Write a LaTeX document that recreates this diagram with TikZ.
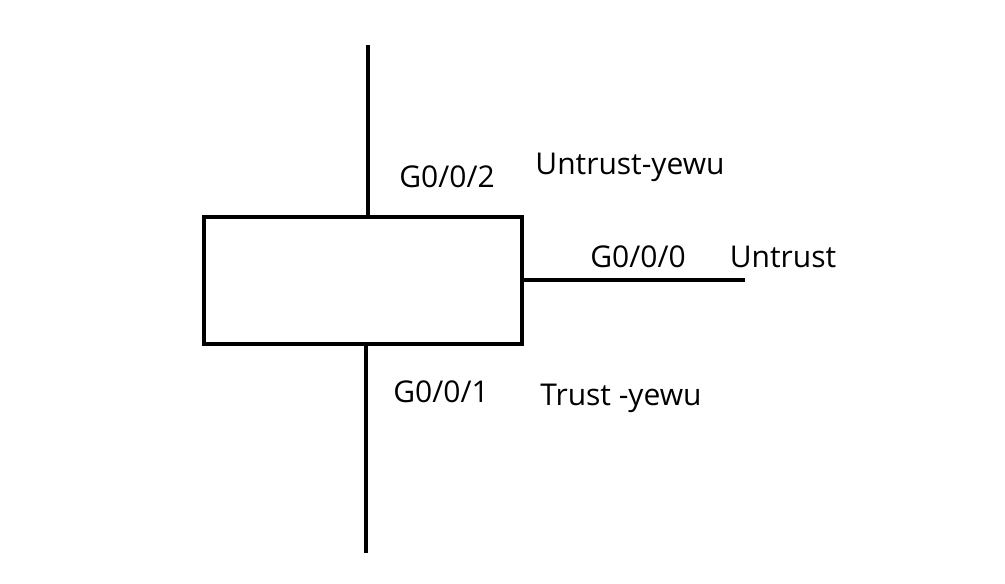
\documentclass[tikz,border=0pt]{standalone}
\usepackage{fontspec}
\setmainfont{Open Sans}
\begin{document}
\begin{tikzpicture}[x=1pt,y=1pt,
  wire/.style={line width=4.6pt},
  lbl/.style={anchor=base,inner sep=0pt,font=\fontsize{30}{34}\selectfont}]
\useasboundingbox (0,0) rectangle (1005,584);
\node[draw,line width=4.6pt,minimum width=318pt,minimum height=127pt,inner sep=0pt] (box) at (363,303.5) {};
\coordinate (top) at (368,539);
\coordinate (bot) at (366,31);
\coordinate (rgt) at (745,304);
\draw[wire] (box.north -| top) -- (top);
\draw[wire] (box.south -| bot) -- (bot);
\draw[wire] (box.east |- rgt) -- (rgt);
\node[lbl] (g2) at (447,396) {G0/0/2};
\node[lbl] (uy) at (630,409) {Untrust-yewu};
\node[lbl] (g0) at (638,316) {G0/0/0};
\node[lbl] (ut) at (783,316) {Untrust};
\node[lbl] (g1) at (441,181) {G0/0/1};
\node[lbl] (ty) at (621,178) {Trust -yewu};
\end{tikzpicture}
\end{document}
